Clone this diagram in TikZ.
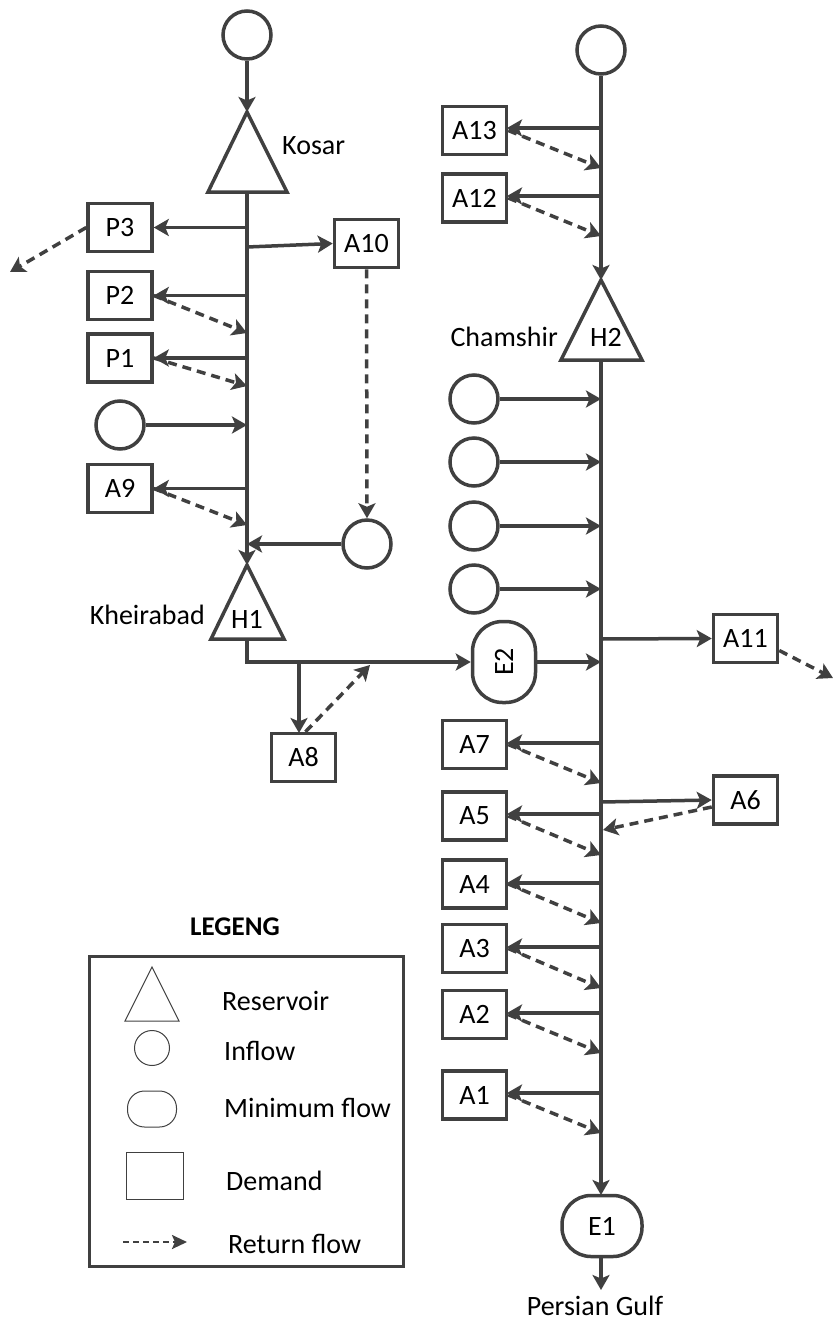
\documentclass[tikz,border=0pt]{standalone}
\usepackage{fontspec}
\setmainfont{Carlito}
\usetikzlibrary{arrows.meta,calc}
\definecolor{dg}{HTML}{404040}
\begin{document}
\begin{tikzpicture}[x=1pt,y=-1pt,
  every node/.style={font=\fontsize{28}{32}\selectfont, text=black},
  box/.style={draw=dg, line width=3.5pt, minimum width=64pt, minimum height=48pt, inner sep=0pt},
  inflow/.style={circle, draw=dg, line width=3.5pt, minimum size=48pt, inner sep=0pt},
  minflow/.style={draw=dg, line width=3.5pt, inner sep=0pt},
  tri/.style={draw=dg, line width=3.5pt, line join=miter},
  flow/.style={draw=dg, line width=3.5pt, -{Stealth[length=15pt,width=17pt,inset=3.5pt]}},
  ret/.style={flow, dash pattern=on 9pt off 6pt},
  lbl/.style={inner sep=0pt},
  thin/.style={draw=dg, line width=1pt}
]
\useasboundingbox (0,0) rectangle (833,1320);

% ---------- left river (Kosar / Kheirabad) ----------
\node[inflow] (cL) at (247,35) {};
\draw[tri] (247,112) -- (287,192) -- (208,192) -- cycle;
\coordinate (kosarT) at (247,112);
\coordinate (kosarB) at (247,192);
\node[lbl, anchor=base west] (kosar) at (282,154) {Kosar};

\draw[tri] (247,565) -- (284,639) -- (211,639) -- cycle;
\coordinate (h1T) at (247,565);
\coordinate (h1B) at (247,639);
\node[lbl, anchor=base] (h1) at (247,628) {H1};
\node[lbl, anchor=base east] (kheirabad) at (205,624) {Kheirabad};

\draw[flow] (cL) -- (kosarT);
\draw[flow] (kosarB) -- (h1T);

\node[box] (p3) at (120,227.5) {P3};
\node[box] (p2) at (120,295.5) {P2};
\node[box] (p1) at (120,358) {P1};
\node[inflow] (cL2) at (120,425) {};
\node[box] (a9) at (120,488.5) {A9};
\node[box] (a10) at (366.5,243.5) {A10};
\node[inflow] (cL3) at (367,544) {};

\coordinate (rP3) at (10,272);
\draw[flow] (p3.east -| kosarB) -- (p3.east);
\draw[ret] (p3.west) -- (rP3);
\draw[flow] (247,247) -- (a10.west);
\draw[ret] (a10.south) -- (cL3.north);
\draw[flow] (p2.east -| kosarB) -- (p2.east);
\draw[ret] (p2.east) -- (247,333);
\draw[flow] (p1.east -| kosarB) -- (p1.east);
\draw[ret] (p1.east) -- (247,386);
\draw[flow] (cL2.east) -- (cL2.east -| kosarB);
\draw[flow] (a9.east -| kosarB) -- (a9.east);
\draw[ret] (a9.east) -- (247,525);
\draw[flow] (cL3.west) -- (cL3.west -| kosarB);

% E2 and A8
\node[minflow, minimum width=63pt, minimum height=81pt, rounded corners=30pt] (e2) at (504,662) {\rotatebox{90}{E2}};
\draw[flow] (h1B) |- (e2.west);
\coordinate (br8) at (299,662);
\node[box] (a8) at (303.5,757.5) {A8};
\draw[flow] (br8) -- (299,733);
\coordinate (r8) at (370,665);
\draw[ret] ([xshift=2pt]a8.north) -- (r8);

% ---------- right river (Chamshir) ----------
\node[inflow] (cR) at (601,50) {};
\draw[tri] (601,280) -- (642,360) -- (561,360) -- cycle;
\coordinate (h2T) at (601,280);
\coordinate (h2B) at (601,360);
\node[lbl, anchor=base] (h2) at (606,346) {H2};
\node[lbl, anchor=base east] (chamshir) at (558,346) {Chamshir};
\draw[flow] (cR) -- (h2T);

\node[minflow, minimum width=80pt, minimum height=61pt, rounded corners=29pt] (e1) at (602,1226) {E1};
\draw[flow] (h2B) -- (601,1195);
\coordinate (gulf) at (601,1290);
\draw[flow] (601,1257) -- (gulf);
\node[lbl, anchor=base] (pg) at (595,1315) {Persian Gulf};

\node[box] (a13) at (474.5,130.5) {A13};
\node[box] (a12) at (474.5,198) {A12};
\draw[flow] (601,128) -- (507,128);
\draw[ret] (a13.east) -- (601,168);
\draw[flow] (601,196) -- (507,196);
\draw[ret] (a12.east) -- (601,236);

\foreach \i/\y in {1/399,2/462,3/526,4/589}{
  \node[inflow] (cin\i) at (474,\y) {};
  \draw[flow] (cin\i.east) -- (601,\y);
}

\node[box] (a11) at (745.5,638.5) {A11};
\draw[flow] (601,639) -- (a11.west);
\coordinate (r11) at (833,678);
\draw[ret] ([yshift=-12pt]a11.east) -- (r11);
\draw[flow] (e2.east) -- (601,662);

\node[box] (a6) at (745.5,800) {A6};
\draw[flow] (601,802) -- (a6.west);
\draw[ret] ([yshift=-7pt]a6.west) -- (603,830);

\foreach \nm/\cy/\ay/\ry in {A7/744.5/743/783, A5/816/814/855, A4/884/883/923, A3/948.5/947/988, A2/1014.5/1013/1053, A1/1095/1093/1133}{
  \node[box] (\nm) at (474.5,\cy) {\nm};
  \draw[flow] (601,\ay) -- (507,\ay);
  \draw[ret] (\nm.east) -- (601,\ry);
}

% ---------- legend ----------
\node[lbl, anchor=base, font=\fontsize{27}{30}\selectfont\bfseries] (legtitle) at (235,935) {LEGENG};
\node[draw=dg, line width=3pt, minimum width=314pt, minimum height=310pt, inner sep=0pt] (legend) at (246,1111) {};
\draw[thin, line join=miter] (152,967) -- (179,1021) -- (125,1021) -- cycle;
\node[thin, circle, minimum size=35pt, inner sep=0pt] (lgc) at (152,1048) {};
\node[thin, minimum width=49pt, minimum height=36pt, rounded corners=17pt, inner sep=0pt] (lgs) at (152,1109) {};
\node[thin, minimum width=57pt, minimum height=47pt, inner sep=0pt] (lgd) at (154.5,1175.5) {};
\coordinate (lgr1) at (123,1242);
\coordinate (lgr2) at (187,1242);
\draw[draw=dg, line width=2.5pt, dash pattern=on 6pt off 4pt, -{Stealth[length=15pt,width=14pt,inset=3pt]}] (lgr1) -- (lgr2);
\node[lbl, anchor=base west] (t1) at (222,1010) {Reservoir};
\node[lbl, anchor=base west] (t2) at (224,1060) {Inflow};
\node[lbl, anchor=base west] (t3) at (224,1117) {Minimum flow};
\node[lbl, anchor=base west] (t4) at (226,1190) {Demand};
\node[lbl, anchor=base west] (t5) at (228,1253) {Return flow};
\end{tikzpicture}
\end{document}
